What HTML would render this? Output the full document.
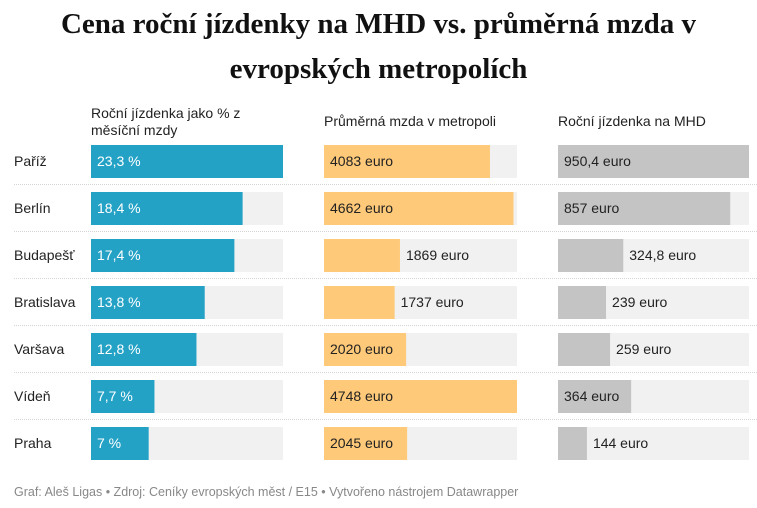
<!DOCTYPE html>
<html><head><meta charset="utf-8"><style>
body{margin:0;background:#fff;width:757px;height:508px;overflow:hidden;font-family:"Liberation Sans",sans-serif}
h1{margin:0;position:absolute;top:2px;left:0;width:757px;text-align:center;font-family:"Liberation Serif",serif;font-weight:bold;font-size:29px;line-height:45px;color:#111}
.hdr{position:absolute;font-size:14px;color:#222;line-height:17px}
.foot{position:absolute;left:14px;top:485px;font-size:12.5px;color:#888}
</style></head><body>
<h1>Cena roční jízdenky na MHD vs. průměrná mzda v<br>evropských metropolích</h1>
<div class="hdr" style="left:91px;top:105px">Roční jízdenka jako % z<br>měsíční mzdy</div>
<div class="hdr" style="left:324px;top:113px">Průměrná mzda v metropoli</div>
<div class="hdr" style="left:558px;top:113px">Roční jízdenka na MHD</div>
<svg id="chart" width="757" height="508" style="position:absolute;left:0;top:0"></svg>
<div class="foot">Graf: Aleš Ligas • Zdroj: Ceníky evropských měst / E15 • Vytvořeno nástrojem Datawrapper</div>
<script>
const cities=["Paříž","Berlín","Budapešť","Bratislava","Varšava","Vídeň","Praha"];
const ratio=[23.3,18.4,17.4,13.8,12.8,7.7,7];
const ratioLabels=["23,3 %","18,4 %","17,4 %","13,8 %","12,8 %","7,7 %","7 %"];
const salary=[4083,4662,1869,1737,2020,4748,2045];
const salaryLabels=["4083 euro","4662 euro","1869 euro","1737 euro","2020 euro","4748 euro","2045 euro"];
const ticket=[950.4,857,324.8,239,259,364,144];
const ticketLabels=["950,4 euro","857 euro","324,8 euro","239 euro","259 euro","364 euro","144 euro"];
const NS="http://www.w3.org/2000/svg";
const svg=document.getElementById('chart');
function mk(t,a){const e=document.createElementNS(NS,t);for(const k in a)e.setAttribute(k,a[k]);svg.appendChild(e);return e;}
const rowY=i=>145+i*47;
const cols=[
 {x:91,w:192,vals:ratio,labels:ratioLabels,max:Math.max(...ratio),color:"#24a2c6",txt:"#fff",name:"ratio"},
 {x:324,w:193,vals:salary,labels:salaryLabels,max:Math.max(...salary),color:"#fec978",txt:"#222",name:"salary"},
 {x:558,w:191,vals:ticket,labels:ticketLabels,max:Math.max(...ticket),color:"#c4c4c4",txt:"#222",name:"ticket"}];
cities.forEach((c,i)=>{
 const y=rowY(i);
 const t=mk('text',{x:14,y:y+21,'font-size':14,fill:'#222'});t.textContent=c;
 
 
 if(i<cities.length-1){const l=mk('line',{x1:14,x2:757,y1:y+39.5,y2:y+39.5,stroke:'#d4d4d4','stroke-dasharray':'1,1'});
 
 }
 cols.forEach(col=>{
  const bg=mk('rect',{x:col.x,y:y,width:col.w,height:33,fill:'#f1f1f1'});
  
  
  const bw=col.vals[i]/col.max*col.w;
  const b=mk('rect',{x:col.x,y:y,width:bw,height:33,fill:col.color});
  
  
  const lbl=col.labels[i];
  const inside=lbl.length*7.5+10<bw;
  const tx=mk('text',{x:inside?col.x+6:col.x+bw+6,y:y+21,'font-size':14,fill:inside?col.txt:'#222'});
  tx.textContent=lbl;
  
  
 });
});
</script>
</body></html>
